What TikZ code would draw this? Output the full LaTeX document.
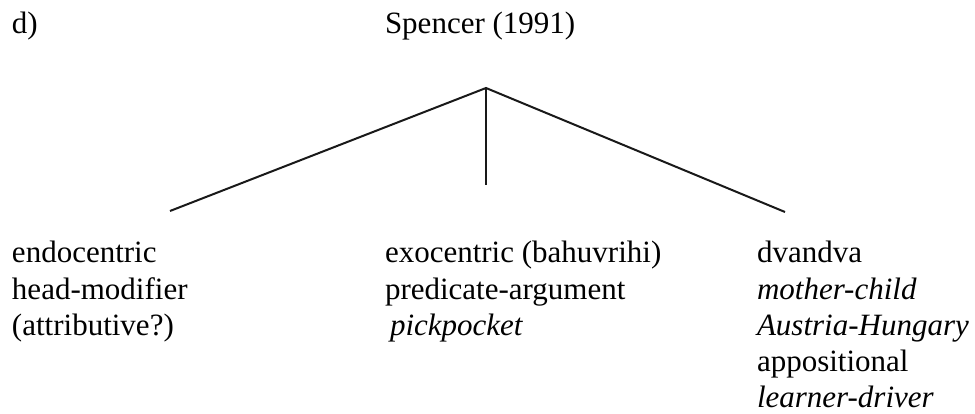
\documentclass[tikz,border=0pt]{standalone}
\usepackage{fontspec}
\setmainfont{Liberation Serif}
\begin{document}
\begin{tikzpicture}[x=1pt,y=-1pt,
  lbl/.style={anchor=base west,inner sep=0pt,outer sep=0pt,font=\fontsize{31}{36}\selectfont},
  branch/.style={line width=2pt,draw=black!90}]
\useasboundingbox (0,0) rectangle (975,414);
\node[lbl] (d) at (12,34) {d)};
\node[lbl] (title) at (385,34) {Spencer (1991)};
\coordinate (apex) at (486,88);
\coordinate (eL) at (170,211);
\coordinate (eM) at (486,185);
\coordinate (eR) at (785,212);
\draw[branch] (eL) -- (apex) -- (eR);
\draw[branch] (apex) -- (eM);
% left column
\node[lbl] (l1) at (12,263) {endocentric};
\node[lbl] (l2) at (12,299) {head-modifier};
\node[lbl] (l3) at (12,335) {(attributive?)};
% middle column
\node[lbl] (m1) at (385,263) {exocentric (bahuvrihi)};
\node[lbl] (m2) at (385,299) {predicate-argument};
\node[lbl] (m3) at (390,335) {\itshape pickpocket};
% right column
\node[lbl] (r1) at (757,263) {dvandva};
\node[lbl] (r2) at (757,299) {\itshape mother-child};
\node[lbl] (r3) at (757,335) {\itshape Austria-Hungary};
\node[lbl] (r4) at (757,371) {appositional};
\node[lbl] (r5) at (757,407) {\itshape learner-driver};
\end{tikzpicture}
\end{document}
